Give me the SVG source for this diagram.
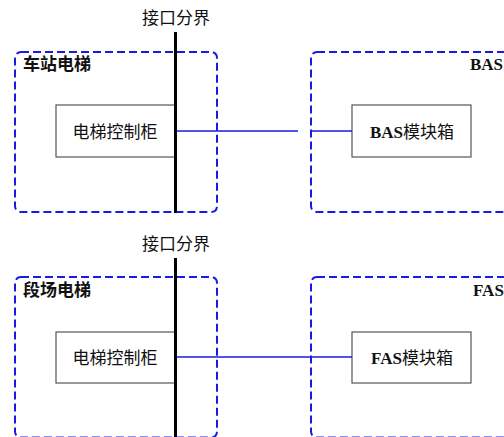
<svg xmlns="http://www.w3.org/2000/svg" width="504" height="437" viewBox="0 0 504 437">
<style>
.t{font-family:"Liberation Serif","Noto Sans CJK SC",serif;font-size:17px;fill:#111}
.b{font-weight:bold}
.grp{fill:none;stroke:#1a1ae6;stroke-width:2;stroke-dasharray:8 4}
.box{fill:#fff;stroke:#555;stroke-width:1.2}
.bnd{stroke:#000;stroke-width:3}
.con{stroke:#1a1ae6;stroke-width:1.5;fill:none}
</style>
<rect width="504" height="437" fill="#fff"/>
<g id="top-left-group">
<rect class="grp" x="15" y="52" width="202" height="160" rx="6"/>
<text class="t b" x="23" y="70">车站电梯</text>
</g>
<g id="top-right-group">
<rect class="grp" x="311" y="52" width="220" height="160" rx="6"/>
<text class="t b" x="470" y="70">BAS</text>
</g>
<g id="bottom-left-group">
<rect class="grp" x="15" y="277" width="202" height="160.5" rx="6"/>
<text class="t b" x="23" y="296">段场电梯</text>
</g>
<g id="bottom-right-group">
<rect class="grp" x="311" y="277" width="220" height="160.5" rx="6"/>
<text class="t b" x="473" y="296">FAS</text>
</g>
<g id="node-top-ctrl">
<rect class="box" x="56" y="105" width="120" height="52"/>
<text class="t" x="115" y="138" text-anchor="middle">电梯控制柜</text>
</g>
<g id="node-bas">
<rect class="box" x="352" y="105" width="119" height="52"/>
<text class="t" x="412" y="138" text-anchor="middle"><tspan class="b">BAS</tspan>模块箱</text>
</g>
<g id="node-bottom-ctrl">
<rect class="box" x="56" y="332" width="120" height="51"/>
<text class="t" x="115" y="364" text-anchor="middle">电梯控制柜</text>
</g>
<g id="node-fas">
<rect class="box" x="352" y="332" width="119" height="51"/>
<text class="t" x="412" y="364" text-anchor="middle"><tspan class="b">FAS</tspan>模块箱</text>
</g>
<g id="boundaries">
<text class="t" x="176" y="24" text-anchor="middle">接口分界</text>
<line class="bnd" x1="175.5" y1="32" x2="175.5" y2="213"/>
<text class="t" x="176" y="250" text-anchor="middle">接口分界</text>
<line class="bnd" x1="175.5" y1="258" x2="175.5" y2="437"/>
</g>
<g id="connectors">
<line class="con" x1="177" y1="131" x2="298" y2="131"/>
<line class="con" x1="312" y1="131" x2="352" y2="131"/>
<line class="con" x1="177" y1="357" x2="352" y2="357"/>
</g>
</svg>
